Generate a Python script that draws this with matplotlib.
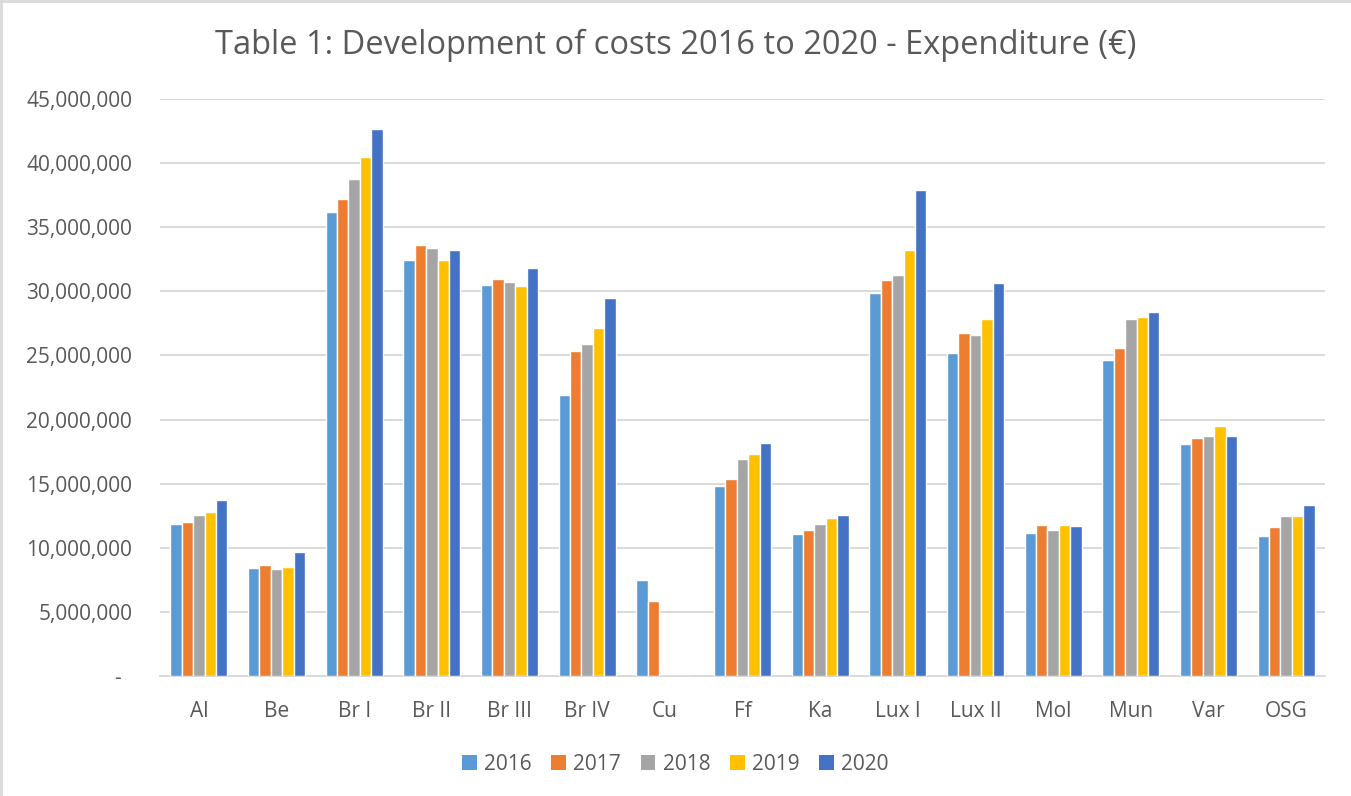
import numpy as np
import matplotlib.pyplot as plt
from matplotlib.ticker import FuncFormatter
from matplotlib.lines import Line2D
from matplotlib.patches import Patch

plt.rcParams['font.family'] = ['Open Sans', 'DejaVu Sans']

# data (EUR)
schools = ["Al", "Be", "Br I", "Br II", "Br III", "Br IV", "Cu", "Ff", "Ka",
           "Lux I", "Lux II", "Mol", "Mun", "Var", "OSG"]
years = ["2016", "2017", "2018", "2019", "2020"]
exp_2016 = [11.85, 8.42, 36.21, 32.42, 30.47, 21.92, 7.49, 14.79, 11.05, 29.89, 25.17, 11.13, 24.67, 18.12, 10.92]
exp_2017 = [12.00, 8.66, 37.18, 33.61, 30.96, 25.37, 5.83, 15.36, 11.41, 30.86, 26.75, 11.78, 25.60, 18.59, 11.65]
exp_2018 = [12.53, 8.32, 38.79, 33.38, 30.69, 25.92, 0.0, 16.90, 11.83, 31.25, 26.62, 11.37, 27.87, 18.70, 12.45]
exp_2019 = [12.77, 8.53, 40.45, 32.45, 30.44, 27.17, 0.0, 17.31, 12.35, 33.25, 27.82, 11.78, 28.02, 19.52, 12.48]
exp_2020 = [13.73, 9.67, 42.69, 33.20, 31.85, 29.46, 0.0, 18.17, 12.53, 37.88, 30.63, 11.68, 28.41, 18.72, 13.34]
series = [exp_2016, exp_2017, exp_2018, exp_2019, exp_2020]
colors = ["#5B9BD5", "#ED7D31", "#A5A5A5", "#FFC000", "#4472C4"]

fig = plt.figure(figsize=(13.51, 7.96), dpi=100)
ax = fig.add_axes([160 / 1351, 1 - 676 / 796, 1165 / 1351, 577 / 796])

x = np.arange(len(schools))
w = 0.147
for i, (vals, c) in enumerate(zip(series, colors)):
    v = np.array(vals) * 1e6
    ax.bar(x + (i - 2) * w, v, width=w, color=c, edgecolor="white",
           linewidth=1.0, zorder=3)

ax.set_xlim(-0.5, len(schools) - 0.5)
ax.set_ylim(0, 45e6)
ax.set_yticks(np.arange(0, 45e6 + 1, 5e6))
ax.yaxis.set_major_formatter(FuncFormatter(lambda v, p: "-  " if v == 0 else f"{v:,.0f}"))
ax.set_xticks(x)
ax.set_xticklabels(schools)
ax.grid(axis="y", color="#D9D9D9", linewidth=1.4, zorder=0)
for s in ["top", "right", "left"]:
    ax.spines[s].set_visible(False)
ax.spines["bottom"].set_color("#D9D9D9")
ax.spines["bottom"].set_linewidth(1.4)
ax.tick_params(axis="both", length=0, labelsize=15, colors="#595959")
ax.tick_params(axis="y", pad=20)
ax.tick_params(axis="x", pad=18)

fig.text(0.5, 1 - 45 / 796, "Table 1: Development of costs 2016 to 2020 - Expenditure (\u20ac)",
         ha="center", va="center", fontsize=23.5, color="#595959")

handles = [Patch(facecolor=c, edgecolor="none") for c in colors]
fig.legend(handles, years, loc="center", bbox_to_anchor=(0.5, 1 - 764 / 796), ncol=5,
           frameon=False, fontsize=15, labelcolor="#595959", handlelength=0.7,
           handleheight=0.7, handletextpad=0.35, columnspacing=0.95)

# light frame of the chart area (left and top edges)
fig.add_artist(Line2D([0.001, 0.001], [0, 1], transform=fig.transFigure, color="#D9D9D9", linewidth=2))
fig.add_artist(Line2D([0, 1], [0.999, 0.999], transform=fig.transFigure, color="#D9D9D9", linewidth=2))

fig.savefig("out.png", dpi=100)
